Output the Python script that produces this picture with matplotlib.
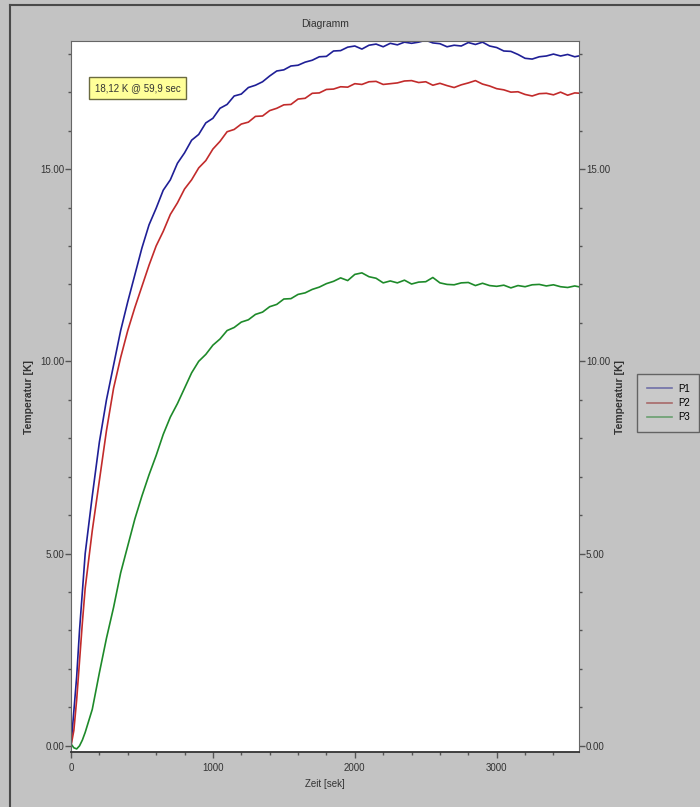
import matplotlib
matplotlib.use("Agg")
import matplotlib.pyplot as plt
from matplotlib.lines import Line2D
from matplotlib.ticker import MultipleLocator, FormatStrFormatter

plt.rcParams['font.family'] = ['Liberation Sans Narrow', 'Liberation Sans', 'DejaVu Sans']

# Zeitachse [sek]
zeit = [0, 20, 40, 60, 80, 100,
        150, 200, 250, 300, 350, 400, 450, 500, 550, 600,
        650, 700, 750, 800, 850, 900, 950, 1000, 1050, 1100,
        1150, 1200, 1250, 1300, 1350, 1400, 1450, 1500, 1550, 1600,
        1650, 1700, 1750, 1800, 1850, 1900, 1950, 2000, 2050, 2100,
        2150, 2200, 2250, 2300, 2350, 2400, 2450, 2500, 2550, 2600,
        2650, 2700, 2750, 2800, 2850, 2900, 2950, 3000, 3050, 3100,
        3150, 3200, 3250, 3300, 3350, 3400, 3450, 3500, 3550, 3590]

# Temperaturen [K]
p1 = [0.0, 0.9, 1.8, 3.0, 4.0, 5.0,
      6.5, 7.9, 9.0, 9.9, 10.8, 11.55, 12.25, 12.95, 13.55, 13.98,
      14.45, 14.72, 15.15, 15.42, 15.75, 15.9, 16.2, 16.32, 16.58, 16.68,
      16.9, 16.95, 17.12, 17.18, 17.27, 17.42, 17.55, 17.58, 17.68, 17.7,
      17.78, 17.83, 17.92, 17.93, 18.07, 18.08, 18.17, 18.2, 18.12, 18.22,
      18.25, 18.18, 18.27, 18.23, 18.3, 18.27, 18.3, 18.35, 18.28, 18.26,
      18.18, 18.22, 18.2, 18.29, 18.24, 18.3, 18.2, 18.16, 18.07, 18.06,
      17.98, 17.88, 17.86, 17.92, 17.94, 17.99, 17.94, 17.98, 17.92, 17.95]

p2 = [0.0, 0.4, 1.2, 2.2, 3.2, 4.1,
      5.6, 6.9, 8.2, 9.3, 10.1, 10.8, 11.4, 11.95, 12.5, 13.0,
      13.38, 13.82, 14.12, 14.48, 14.72, 15.03, 15.22, 15.52, 15.72, 15.97,
      16.03, 16.17, 16.22, 16.37, 16.38, 16.52, 16.58, 16.67, 16.68, 16.82,
      16.84, 16.97, 16.98, 17.07, 17.08, 17.14, 17.13, 17.22, 17.2, 17.27,
      17.28, 17.2, 17.22, 17.24, 17.29, 17.3, 17.25, 17.27, 17.18, 17.23,
      17.17, 17.12, 17.19, 17.24, 17.3, 17.21, 17.16, 17.09, 17.06, 17.0,
      17.01, 16.94, 16.9, 16.96, 16.97, 16.93, 17.0, 16.92, 16.98, 16.97]

p3 = [0.05, -0.05, -0.08, 0.0, 0.15, 0.35,
      0.95, 1.9, 2.8, 3.6, 4.5, 5.2, 5.9, 6.5, 7.05, 7.55,
      8.1, 8.55, 8.9, 9.3, 9.7, 10.0, 10.18, 10.42, 10.58, 10.8,
      10.88, 11.02, 11.08, 11.22, 11.28, 11.42, 11.48, 11.62, 11.63, 11.74,
      11.78, 11.87, 11.93, 12.02, 12.08, 12.17, 12.1, 12.26, 12.3, 12.2,
      12.16, 12.04, 12.09, 12.04, 12.11, 12.01, 12.06, 12.07, 12.18, 12.04,
      12.0, 11.99, 12.04, 12.05, 11.97, 12.03, 11.97, 11.95, 11.98, 11.91,
      11.97, 11.94, 11.99, 12.0, 11.96, 11.99, 11.94, 11.92, 11.96, 11.93]

bg = '#c3c3c3'
txt = '#333333'

fig = plt.figure(figsize=(7.0, 8.07), dpi=100, facecolor=bg)
ax = fig.add_axes([71 / 700, 55 / 807, 508 / 700, 711 / 807])
ax.set_facecolor('white')

ax.plot(zeit, p1, color='#1f1f96', lw=1.2, label='P1')
ax.plot(zeit, p2, color='#c22b2b', lw=1.2, label='P2')
ax.plot(zeit, p3, color='#1e8a2a', lw=1.2, label='P3')

ax.set_xlim(0, 3580)
ax.set_ylim(-0.16, 18.33)

# Achsen und Ticks
ax.xaxis.set_major_locator(MultipleLocator(1000))
ax.xaxis.set_minor_locator(MultipleLocator(200))
ax.yaxis.set_major_locator(MultipleLocator(5))
ax.yaxis.set_minor_locator(MultipleLocator(1))
ax.yaxis.set_major_formatter(FormatStrFormatter('%.2f'))
ax.tick_params(axis='both', which='both', direction='out', colors='#555555',
               labelcolor=txt, labelsize=7)
ax.tick_params(axis='both', which='major', length=4, width=1)
ax.tick_params(axis='both', which='minor', length=2.5, width=1)
ax.tick_params(axis='y', which='both', left=True, right=True,
               labelleft=True, labelright=True, pad=1)
ax.tick_params(axis='x', which='both', top=False, pad=4)

for s in ['top', 'right', 'left']:
    ax.spines[s].set_color('#666666')
ax.spines['bottom'].set_color('#333333')
ax.spines['bottom'].set_linewidth(1.3)

ax.set_title('Diagramm', fontsize=7.5, color=txt, pad=10)
ax.set_xlabel('Zeit [sek]', fontsize=7, color=txt, labelpad=4)
ax.set_ylabel('Temperatur [K]', fontsize=7.5, color=txt, labelpad=4, fontweight='bold')

# rechte Beschriftung
ax.text(1.0 + 41 / 508, 0.5, 'Temperatur [K]', transform=ax.transAxes, rotation=90,
        ha='center', va='center', fontsize=7.5, color=txt, fontweight='bold')

# Cursor-Anzeige
ax.text(0.131, 0.934, '18,12 K @ 59,9 sec', transform=ax.transAxes,
        ha='center', va='center', fontsize=7, color=txt,
        bbox=dict(boxstyle='square,pad=0.6', facecolor='#ffff99', edgecolor='#6b6b40', lw=1))

# Legende
handles = [Line2D([], [], color='#7070a8', lw=1.2),
           Line2D([], [], color='#a86a6a', lw=1.2),
           Line2D([], [], color='#6aa070', lw=1.2)]
leg = fig.legend(handles, ['P1', 'P2', 'P3'], loc='upper left',
                 bbox_to_anchor=(637 / 700, 1 - 374 / 807), borderaxespad=0,
                 fontsize=7, frameon=True, fancybox=False, handlelength=2.6,
                 handletextpad=0.6, borderpad=1.0, labelspacing=0.45)
leg.get_frame().set_facecolor('#cbcbcb')
leg.get_frame().set_edgecolor('#4a4a4a')
leg.get_frame().set_linewidth(1.0)

# Fensterrahmen
fig.add_artist(Line2D([10 / 700, 10 / 700], [0, 1 - 5 / 807], transform=fig.transFigure,
                      color='#4a4a4a', lw=1.5))
fig.add_artist(Line2D([10 / 700, 1], [1 - 5 / 807, 1 - 5 / 807], transform=fig.transFigure,
                      color='#4a4a4a', lw=1.5))

fig.savefig('out.png', dpi=100, facecolor=bg)
